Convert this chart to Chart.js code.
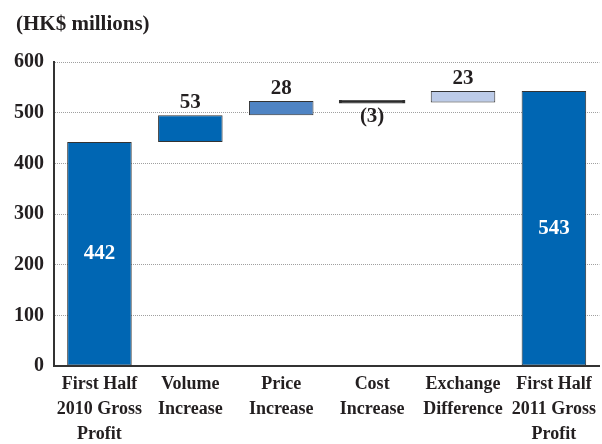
<!DOCTYPE html>
<html>
<head>
<meta charset="utf-8">
<script src="https://cdn.jsdelivr.net/npm/chart.js@4/dist/chart.umd.min.js"></script>
<style>
  html, body { margin: 0; padding: 0; background: #fff; }
  #wrap { width: 602px; height: 444px; position: relative; }
</style>
</head>
<body>
<div id="wrap"><canvas id="chart"></canvas></div>
<script>
// Waterfall data (HK$ millions)
const categories = [
  ['First Half', '2010 Gross', 'Profit'],
  ['Volume', 'Increase'],
  ['Price', 'Increase'],
  ['Cost', 'Increase'],
  ['Exchange', 'Difference'],
  ['First Half', '2011 Gross', 'Profit']
];
const barLow  = [0, 442, 495, 520, 520, 0];
const barHigh = [442, 495, 523, 523, 543, 543];
const valueLabels = ['442', '53', '28', '(3)', '23', '543'];
const yTicks = [0, 100, 200, 300, 400, 500, 600];
const unitTitle = '(HK$ millions)';

const barColors = ['#0066b3', '#0066b3', '#4f84c4', '#2b2b2b', '#bccbe8', '#0066b3'];
const labelPlace = ['inside', 'above', 'above', 'below', 'above', 'inside'];

const serif = '"Liberation Serif", "Times New Roman", serif';

// draws the value labels on / next to each bar, plus the unit title
const valueLabelPlugin = {
  id: 'valueLabels',
  afterDatasetsDraw(chart) {
    const ctx = chart.ctx;
    const meta = chart.getDatasetMeta(0);
    ctx.save();
    ctx.font = 'bold 21px ' + serif;
    ctx.textAlign = 'center';
    meta.data.forEach((bar, i) => {
      const top = Math.min(bar.y, bar.base);
      const bottom = Math.max(bar.y, bar.base);
      if (labelPlace[i] === 'inside') {
        ctx.fillStyle = '#ffffff';
        ctx.textBaseline = 'middle';
        ctx.fillText(valueLabels[i], bar.x, (top + bottom) / 2);
      } else if (labelPlace[i] === 'above') {
        ctx.fillStyle = '#231f20';
        ctx.textBaseline = 'bottom';
        ctx.fillText(valueLabels[i], bar.x, top - 2);
      } else {
        ctx.fillStyle = '#231f20';
        ctx.textBaseline = 'top';
        ctx.fillText(valueLabels[i], bar.x, bottom + 4);
      }
    });
    // unit title, top left
    ctx.font = 'bold 21px ' + serif;
    ctx.textAlign = 'left';
    ctx.textBaseline = 'middle';
    ctx.fillStyle = '#231f20';
    ctx.fillText(unitTitle, 16, 25);
    ctx.restore();
  }
};

new Chart(document.getElementById('chart'), {
  type: 'bar',
  data: {
    labels: categories,
    datasets: [{
      data: barLow.map((lo, i) => [lo, barHigh[i]]),
      backgroundColor: barColors,
      borderColor: '#333333',
      borderWidth: 1,
      borderSkipped: false,
      inflateAmount: [0, 0, 0, 1, 0, 0],
      barPercentage: 0.71,
      categoryPercentage: 1.0
    }]
  },
  options: {
    responsive: true,
    maintainAspectRatio: false,
    animation: false,
    layout: { padding: { left: 4, right: -5, top: 62, bottom: -9 } },
    plugins: {
      legend: { display: false },
      tooltip: { enabled: false },
      title: { display: false }
    },
    scales: {
      x: {
        grid: { display: false, drawTicks: false },
        border: { display: true, color: '#333333', width: 2 },
        ticks: {
          color: '#231f20',
          font: { family: serif, size: 18, weight: 'bold', lineHeight: '25px' },
          maxRotation: 0,
          autoSkip: false,
          padding: 6
        }
      },
      y: {
        min: 0,
        max: 600,
        afterBuildTicks(axis) {
          axis.ticks = yTicks.map(v => ({ value: v }));
        },
        grid: {
          drawTicks: false,
          color: (c) => c.tick.value === 0 ? 'rgba(0,0,0,0)' : '#a0a0a0',
          lineWidth: 1
        },
        border: { display: true, color: '#333333', width: 2, dash: [1, 1] },
        ticks: {
          color: '#231f20',
          font: { family: serif, size: 20, weight: 'bold' },
          padding: 10
        }
      }
    }
  },
  plugins: [valueLabelPlugin]
});
</script>
</body>
</html>
